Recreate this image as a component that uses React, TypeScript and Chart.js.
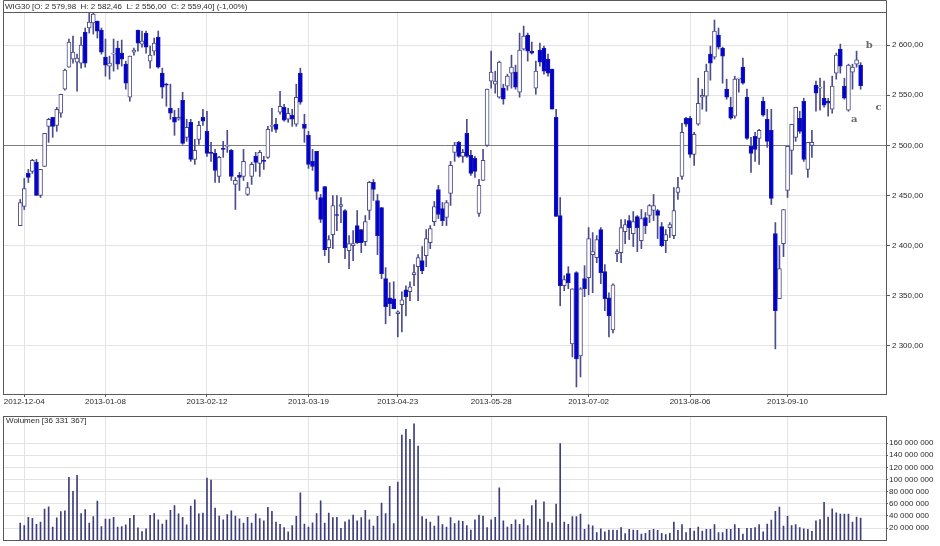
import React, { useEffect, useRef } from 'react';
import { Chart, registerables } from 'chart.js';

Chart.register(...registerables);

const FONT = '"Liberation Sans", Arial, Helvetica, sans-serif';

// ---- data ----
const openP = [
  2420, 2439, 2472, 2474, 2483, 2450, 2479, 2519, 2528, 2520,
  2532, 2556, 2578, 2586, 2583, 2582, 2613, 2617, 2622, 2624,
  2615, 2588, 2579, 2591, 2597, 2592, 2581, 2548, 2593, 2615,
  2601, 2612, 2584, 2594, 2608, 2572, 2561, 2537, 2528, 2526,
  2545, 2508, 2523, 2486, 2506, 2528, 2514, 2493, 2492, 2469,
  2497, 2499, 2495, 2461, 2470, 2469, 2451, 2469, 2489, 2482,
  2485, 2488, 2519, 2521, 2533, 2538, 2526, 2530, 2521, 2572,
  2521, 2510, 2484, 2494, 2448, 2459, 2398, 2411, 2431, 2439,
  2435, 2395, 2400, 2420, 2416, 2404, 2435, 2463, 2445, 2438,
  2367, 2348, 2347, 2332, 2341, 2356, 2354, 2371, 2379, 2385,
  2390, 2403, 2424, 2456, 2437, 2428, 2452, 2493, 2503, 2489,
  2512, 2490, 2487, 2432, 2465, 2500, 2564, 2561, 2548, 2557,
  2559, 2572, 2573, 2553, 2596, 2610, 2594, 2557, 2595, 2597,
  2586, 2576, 2528, 2430, 2360, 2372, 2302, 2373, 2290, 2367,
  2368, 2391, 2388, 2416, 2374, 2348, 2316, 2392, 2393, 2414,
  2425, 2412, 2429, 2405, 2428, 2430, 2435, 2435, 2419, 2405,
  2418, 2410, 2453, 2469, 2527, 2527, 2491, 2521, 2548, 2549,
  2591, 2588, 2610, 2597, 2556, 2538, 2529, 2566, 2578, 2548,
  2499, 2509, 2507, 2544, 2526, 2515, 2412, 2347, 2402, 2455,
  2495, 2508, 2527, 2544, 2476, 2500, 2560, 2557, 2547, 2544,
  2536, 2572, 2596, 2559, 2535, 2573, 2581, 2579.98,
];
const highP = [
  2446, 2467, 2476, 2486, 2486, 2476, 2512, 2527, 2528, 2538,
  2551, 2576, 2606, 2609, 2591, 2608, 2617, 2632, 2632, 2624,
  2617, 2606, 2589, 2606, 2604, 2605, 2584, 2589, 2597, 2615,
  2614, 2614, 2599, 2607, 2614, 2577, 2562, 2561, 2535, 2537,
  2553, 2526, 2526, 2506, 2524, 2536, 2534, 2503, 2496, 2489,
  2504, 2515, 2496, 2468, 2473, 2496, 2463, 2483, 2493, 2495,
  2489, 2519, 2537, 2527, 2554, 2541, 2537, 2536, 2561, 2577,
  2531, 2514, 2496, 2494, 2451, 2459, 2410, 2450, 2450, 2448,
  2436, 2410, 2415, 2435, 2416, 2430, 2464, 2466, 2451, 2438,
  2378, 2363, 2364, 2335, 2354, 2360, 2364, 2381, 2391, 2399,
  2416, 2420, 2444, 2460, 2443, 2445, 2484, 2503, 2504, 2496,
  2526, 2495, 2489, 2466, 2496, 2556, 2594, 2574, 2584, 2561,
  2571, 2590, 2580, 2612, 2619, 2612, 2603, 2584, 2602, 2599,
  2591, 2576, 2536, 2448, 2370, 2379, 2357, 2374, 2358, 2380,
  2418, 2413, 2410, 2418, 2381, 2353, 2362, 2396, 2426, 2426,
  2430, 2434, 2430, 2436, 2433, 2441, 2451, 2436, 2423, 2416,
  2423, 2458, 2468, 2522, 2528, 2529, 2513, 2567, 2556, 2581,
  2599, 2625, 2617, 2598, 2566, 2548, 2569, 2567, 2587, 2556,
  2508, 2513, 2516, 2548, 2536, 2536, 2423, 2400, 2436, 2499,
  2521, 2538, 2534, 2547, 2503, 2515, 2564, 2567, 2564, 2547,
  2569, 2592, 2601, 2567, 2581, 2581, 2594, 2582.46,
];
const lowP = [
  2420, 2436, 2463, 2472, 2450, 2448, 2479, 2503, 2508, 2514,
  2528, 2555, 2578, 2582, 2554, 2577, 2578, 2612, 2611, 2607,
  2591, 2569, 2566, 2574, 2576, 2579, 2556, 2544, 2590, 2594,
  2598, 2592, 2577, 2590, 2577, 2547, 2539, 2526, 2510, 2525,
  2501, 2504, 2484, 2481, 2501, 2520, 2489, 2484, 2463, 2463,
  2488, 2493, 2465, 2436, 2455, 2465, 2450, 2461, 2474, 2469,
  2476, 2487, 2514, 2513, 2531, 2524, 2523, 2519, 2519, 2541,
  2503, 2477, 2475, 2446, 2423, 2390, 2383, 2397, 2415, 2423,
  2387, 2377, 2385, 2402, 2393, 2400, 2426, 2445, 2391, 2367,
  2322, 2330, 2337, 2309, 2314, 2330, 2345, 2360, 2345, 2372,
  2379, 2397, 2420, 2427, 2420, 2420, 2440, 2484, 2488, 2483,
  2488, 2470, 2468, 2429, 2465, 2499, 2557, 2552, 2547, 2541,
  2555, 2557, 2556, 2548, 2595, 2584, 2591, 2551, 2579, 2571,
  2569, 2536, 2429, 2340, 2355, 2357, 2289, 2259, 2269, 2349,
  2351, 2353, 2383, 2362, 2335, 2309, 2313, 2384, 2383, 2402,
  2406, 2399, 2394, 2397, 2412, 2423, 2425, 2407, 2399, 2393,
  2408, 2407, 2446, 2466, 2519, 2488, 2480, 2520, 2536, 2534,
  2565, 2586, 2596, 2562, 2546, 2526, 2527, 2553, 2561, 2506,
  2473, 2484, 2481, 2529, 2498, 2441, 2297, 2347, 2389, 2448,
  2471, 2504, 2512, 2484, 2468, 2488, 2534, 2535, 2538, 2529,
  2532, 2566, 2572, 2546, 2534, 2556, 2578, 2556.0,
];
const closeP = [
  2443, 2457, 2468, 2485, 2450, 2476, 2512, 2526, 2519, 2536,
  2551, 2575, 2603, 2593, 2587, 2600, 2582, 2623, 2631, 2614,
  2593, 2580, 2582, 2592, 2581, 2586, 2562, 2589, 2595, 2602,
  2604, 2598, 2590, 2602, 2578, 2558, 2560, 2532, 2523, 2528,
  2502, 2518, 2486, 2495, 2520, 2524, 2492, 2492, 2475, 2488,
  2496, 2500, 2469, 2465, 2468, 2484, 2458, 2481, 2483, 2493,
  2484, 2516, 2520, 2516, 2539, 2525, 2532, 2526, 2548, 2543,
  2517, 2481, 2479, 2454, 2426, 2396, 2406, 2440, 2430, 2441,
  2398, 2402, 2402, 2403, 2403, 2424, 2463, 2456, 2410, 2372,
  2339, 2342, 2337, 2334, 2346, 2349, 2359, 2373, 2388, 2375,
  2407, 2417, 2439, 2431, 2425, 2443, 2480, 2500, 2489, 2493,
  2489, 2472, 2474, 2460, 2485, 2556, 2573, 2564, 2583, 2546,
  2569, 2578, 2558, 2595, 2609, 2594, 2592, 2574, 2583, 2574,
  2572, 2536, 2429, 2360, 2366, 2363, 2357, 2287, 2357, 2357,
  2407, 2394, 2406, 2373, 2347, 2330, 2361, 2394, 2418, 2421,
  2418, 2424, 2418, 2427, 2420, 2440, 2440, 2430, 2400, 2411,
  2421, 2435, 2458, 2513, 2521, 2491, 2511, 2542, 2550, 2574,
  2582, 2614, 2598, 2589, 2548, 2527, 2566, 2566, 2562, 2507,
  2492, 2496, 2515, 2530, 2504, 2447, 2335, 2377, 2436, 2499,
  2521, 2538, 2514, 2486, 2503, 2503, 2552, 2558, 2540, 2542,
  2559, 2590, 2579, 2547, 2580, 2578, 2585.25, 2559.4,
];
// volume in millions of shares
const volumeM = [
  28.3, 24.1, 37.7, 36.2, 26.2, 29.9, 51.4, 55.0, 21.5, 36.7,
  47.2, 48.2, 103.8, 80.7, 106.9, 44.0, 50.3, 28.3, 38.8, 64.5,
  22.5, 34.6, 34.6, 37.7, 21.5, 22.5, 25.2, 36.2, 40.9, 20.4,
  14.1, 18.9, 40.9, 44.0, 33.5, 26.7, 33.0, 49.3, 57.1, 43.5,
  37.7, 25.2, 56.1, 66.5, 43.5, 44.5, 102.2, 99.0, 52.9, 39.8,
  33.5, 42.4, 48.2, 39.8, 35.1, 28.3, 37.7, 28.3, 43.5, 35.6,
  32.0, 54.0, 47.7, 29.9, 26.2, 21.0, 13.6, 24.1, 39.3, 78.0,
  26.7, 21.5, 28.5, 44.0, 65.0, 28.3, 44.5, 37.2, 37.7, 19.4,
  30.4, 33.5, 41.4, 32.0, 37.2, 49.3, 33.5, 23.1, 39.3, 61.3,
  44.0, 88.6, 27.2, 95.9, 173.4, 182.9, 166.1, 191.8, 155.1, 38.8,
  34.6, 29.9, 23.1, 39.8, 25.7, 21.5, 37.2, 27.2, 32.0, 30.9,
  24.1, 16.8, 33.5, 41.4, 39.8, 21.0, 33.5, 37.7, 86.5, 32.0,
  21.5, 26.2, 33.5, 26.2, 34.6, 24.1, 57.1, 66.0, 34.6, 63.4,
  29.9, 28.3, 59.7, 159.3, 29.9, 26.2, 38.8, 38.8, 43.0, 17.8,
  25.2, 23.6, 12.6, 18.9, 13.6, 16.8, 16.8, 16.2, 21.0, 11.0,
  17.8, 16.8, 16.2, 10.0, 11.5, 16.2, 17.8, 16.2, 11.5, 9.4,
  11.5, 29.9, 16.2, 25.7, 12.6, 19.4, 15.2, 21.5, 15.2, 17.8,
  17.8, 25.7, 12.6, 12.6, 17.8, 17.8, 25.7, 19.4, 10.0, 19.4,
  19.4, 21.0, 25.7, 13.6, 26.7, 33.0, 47.7, 54.5, 23.1, 39.3,
  24.1, 25.7, 21.0, 18.9, 17.8, 14.7, 32.0, 34.0, 62.4, 38.3,
  51.9, 45.1, 43.0, 43.0, 43.0, 29.9, 38.3, 36.331367,
];

// x tick labels (session index of the labelled date)
const tickIndex = [1, 21, 46, 71, 93, 116, 140, 165, 189];
const tickDates = [
  '2012-12-04', '2013-01-08', '2013-02-12', '2013-03-19', '2013-04-23',
  '2013-05-28', '2013-07-02', '2013-08-06', '2013-09-10',
];
const priceTicks = [2300, 2350, 2400, 2450, 2500, 2550, 2600];
const volumeTicksM = [20, 40, 60, 80, 100, 120, 140, 160];

// wave labels drawn on the price panel (session index, price)
const waveLabels = ['a', 'b', 'c'];
const waveX = [205.4, 209.1, 211.4];
const waveY = [2526, 2600, 2538];

const X_MIN = -4.24;
const X_MAX = 213.25;
const Y_MIN = 2252;
const Y_MAX = 2633;
const VOL_MAX = 205;

// ---- helpers ----
const group3 = (s: string) => s.replace(/\B(?=(\d{3})+(?!\d))/g, ' ');
const fmtPrice = (v: number) => {
  const [a, b] = v.toFixed(2).split('.');
  return group3(a) + ',' + b;
};
const fmtVol = (v: number) => group3(Math.round(v).toString());

const last = closeP.length - 1;
const changePct = (closeP[last] / closeP[last - 1] - 1) * 100;
const headerText =
  `WIG30 [O: ${fmtPrice(openP[last])}  H: ${fmtPrice(highP[last])}  L: ${fmtPrice(lowP[last])}  C: ${fmtPrice(closeP[last])}] (${changePct.toFixed(2).replace('.', ',')}%)`;
const volumeText = `Wolumen [${fmtVol(volumeM[last] * 1e6)}]`;

const FRAME = '#5a5a5a';
const GRID = '#e3e3e3';
const TEXT = '#2a2a2a';

export default function App() {
  const priceRef = useRef<HTMLCanvasElement | null>(null);
  const volRef = useRef<HTMLCanvasElement | null>(null);

  useEffect(() => {
    const idx = closeP.map((_, i) => i);
    const down = idx.map((i) => closeP[i] < openP[i]);

    const framePlugin = {
      id: 'frame',
      afterDraw(chart: any) {
        const { ctx, chartArea } = chart;
        const l = Math.round(chartArea.left) + 0.5;
        const r = Math.round(chartArea.right) + 0.5;
        const t = Math.round(chartArea.top) + 0.5;
        const b = Math.round(chartArea.bottom) + 0.5;
        ctx.save();
        ctx.strokeStyle = FRAME;
        ctx.lineWidth = 1;
        ctx.strokeRect(l, t, r - l, b - t);
        ctx.restore();
      },
    };

    const priceText = {
      id: 'priceText',
      afterDraw(chart: any) {
        const { ctx, chartArea, scales } = chart;
        ctx.save();
        // header box
        ctx.strokeStyle = FRAME;
        ctx.lineWidth = 1;
        const l = Math.round(chartArea.left) + 0.5;
        const r = Math.round(chartArea.right) + 0.5;
        const t = Math.round(chartArea.top) + 0.5;
        ctx.beginPath();
        ctx.moveTo(l, t);
        ctx.lineTo(l, 0.5);
        ctx.lineTo(r, 0.5);
        ctx.lineTo(r, t);
        ctx.stroke();
        ctx.font = `8px ${FONT}`;
        ctx.fillStyle = TEXT;
        ctx.textAlign = 'left';
        ctx.textBaseline = 'middle';
        ctx.fillText(headerText, chartArea.left + 2, 6.5);
        // wave labels
        ctx.font = `bold 10px "DejaVu Serif", "Liberation Serif", serif`;
        ctx.fillStyle = '#6a6a6a';
        ctx.textAlign = 'center';
        waveLabels.forEach((s, k) => {
          ctx.fillText(s, scales.x.getPixelForValue(waveX[k]), scales.y.getPixelForValue(waveY[k]));
        });
        ctx.restore();
      },
    };

    const volText = {
      id: 'volText',
      afterDraw(chart: any) {
        const { ctx, chartArea } = chart;
        ctx.save();
        ctx.font = `8px ${FONT}`;
        ctx.fillStyle = TEXT;
        ctx.textAlign = 'left';
        ctx.textBaseline = 'middle';
        ctx.fillText(volumeText, chartArea.left + 3, chartArea.top + 4.5);
        ctx.restore();
      },
    };

    const xScale = (showLabels: boolean, height: number) => ({
      type: 'linear',
      min: X_MIN,
      max: X_MAX,
      bounds: 'data',
      offset: false,
      afterBuildTicks: (s: any) => {
        s.ticks = tickIndex.map((v) => ({ value: v }));
      },
      afterFit: (s: any) => {
        s.height = height;
      },
      ticks: {
        display: showLabels,
        autoSkip: false,
        maxRotation: 0,
        minRotation: 0,
        padding: 0,
        color: TEXT,
        font: { family: FONT, size: 8 },
        callback: (_v: any, i: number) => tickDates[i],
      },
      grid: { offset: false, color: GRID, tickColor: FRAME, tickLength: 3, drawTicks: showLabels },
      border: { display: false },
    });

    const priceChart = new Chart(priceRef.current as HTMLCanvasElement, {
      type: 'bar',
      data: {
        datasets: [
          {
            label: 'body',
            data: idx.map((i) => ({ x: i, y: [openP[i], closeP[i]] })) as any,
            order: 0,
            grouped: false,
            barThickness: 4,
            minBarLength: 1,
            backgroundColor: down.map((d) => (d ? '#0000d2' : '#ffffff')),
            borderColor: down.map((d) => (d ? '#1a1aa8' : '#4a4a86')),
            borderWidth: 1,
            borderSkipped: false,
          } as any,
          {
            label: 'wick',
            data: idx.map((i) => ({ x: i, y: [lowP[i], highP[i]] })) as any,
            order: 1,
            grouped: false,
            barThickness: 1,
            backgroundColor: '#4c4c8c',
            borderWidth: 0,
          } as any,
        ],
      },
      options: {
        animation: false,
        responsive: false,
        events: [],
        layout: { padding: { left: 3, top: 12, right: 0, bottom: 0 } },
        plugins: { legend: { display: false }, tooltip: { enabled: false }, title: { display: false } },
        scales: {
          x: xScale(true, 16) as any,
          y: {
            type: 'linear',
            position: 'right',
            min: Y_MIN,
            max: Y_MAX,
            afterBuildTicks: (s: any) => {
              s.ticks = priceTicks.map((v) => ({ value: v }));
            },
            afterFit: (s: any) => {
              s.width = 54;
            },
            ticks: {
              padding: 2,
              color: TEXT,
              font: { family: FONT, size: 8 },
              callback: (v: any) => fmtPrice(Number(v)),
            },
            grid: {
              color: (c: any) => (c.tick && c.tick.value === 2500 ? '#7d7d7d' : GRID),
              tickColor: FRAME,
              tickLength: 4,
            },
            border: { display: false },
          } as any,
        },
      },
      plugins: [framePlugin, priceText],
    });

    const volChart = new Chart(volRef.current as HTMLCanvasElement, {
      type: 'bar',
      data: {
        datasets: [
          {
            label: 'Wolumen',
            data: idx.map((i) => ({ x: i, y: volumeM[i] })) as any,
            grouped: false,
            barThickness: 1,
            backgroundColor: '#3e3e7c',
            borderWidth: 0,
          } as any,
        ],
      },
      options: {
        animation: false,
        responsive: false,
        events: [],
        layout: { padding: { left: 3, top: 1, right: 0, bottom: 0 } },
        plugins: { legend: { display: false }, tooltip: { enabled: false } },
        scales: {
          x: xScale(false, 4) as any,
          y: {
            type: 'linear',
            position: 'right',
            min: 0,
            max: VOL_MAX,
            afterBuildTicks: (s: any) => {
              s.ticks = volumeTicksM.map((v) => ({ value: v }));
            },
            afterFit: (s: any) => {
              s.width = 54;
            },
            ticks: {
              padding: 1,
              color: TEXT,
              font: { family: FONT, size: 8 },
              callback: (v: any) => fmtVol(Number(v) * 1e6),
            },
            grid: { color: GRID, tickColor: FRAME, tickLength: 2 },
            border: { display: false },
          } as any,
        },
      },
      plugins: [framePlugin, volText],
    });

    return () => {
      priceChart.destroy();
      volChart.destroy();
    };
  }, []);

  return (
    <div style={{ position: 'absolute', left: 0, top: 0, width: 940, height: 546, background: '#ffffff' }}>
      <canvas ref={priceRef} width={940} height={410} style={{ position: 'absolute', left: 0, top: 0 }} />
      <canvas ref={volRef} width={940} height={136} style={{ position: 'absolute', left: 0, top: 410 }} />
    </div>
  );
}
